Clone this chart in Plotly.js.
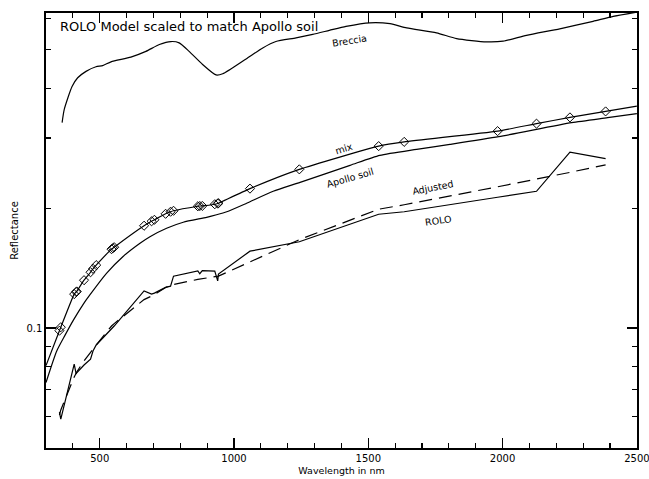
<!DOCTYPE html>
<html>
<head>
<meta charset="utf-8">
<script src="https://cdn.plot.ly/plotly-3.0.1.min.js"></script>
<style>
  html, body { margin: 0; padding: 0; background: #fff; }
  #chart { width: 649px; height: 479px; }
</style>
</head>
<body>
<div id="chart"></div>
<script>
// ROLO band wavelengths (nm)
const bandWl = [350.0, 355.1, 405.0, 412.3, 414.4, 441.6, 465.8, 475.0, 486.9, 544.0, 549.1, 553.8,
  665.1, 693.1, 703.6, 745.3, 763.7, 774.8, 865.3, 872.6, 882.0, 928.4, 939.3, 942.1,
  1059.5, 1243.2, 1538.7, 1633.6, 1981.5, 2126.3, 2250.9, 2383.6];

// mix reflectance at the ROLO bands (diamonds)
const mixRefl = [0.0985, 0.1005, 0.1217, 0.1232, 0.1236, 0.1319, 0.1381, 0.1409, 0.1439, 0.1578, 0.1587, 0.1596,
  0.1807, 0.1854, 0.1870, 0.1936, 0.1959, 0.1970, 0.2022, 0.2025, 0.2026, 0.2046, 0.2055, 0.2058,
  0.2239, 0.2503, 0.2863, 0.2934, 0.3122, 0.3260, 0.3380, 0.3499];
const mixEndWl = [300, 2500];
const mixEndRefl = [0.0805, 0.3607];

// ROLO model at the bands
const roloRefl = [0.0615, 0.0591, 0.0812, 0.0767, 0.0772, 0.0808, 0.0836, 0.0876, 0.0907, 0.1000, 0.1006, 0.1012,
  0.1240, 0.1217, 0.1224, 0.1265, 0.1274, 0.1350, 0.1392, 0.1369, 0.1394, 0.1390, 0.1314, 0.1366,
  0.1560, 0.1647, 0.1931, 0.1959, 0.2130, 0.2205, 0.2766, 0.2663];

// Adjusted ROLO at the bands
const adjRefl = [0.0605, 0.0623, 0.0754, 0.0772, 0.0776, 0.0827, 0.0866, 0.0883, 0.0907, 0.1012, 0.1020, 0.1026,
  0.1179, 0.1203, 0.1213, 0.1265, 0.1279, 0.1287, 0.1325, 0.1327, 0.1331, 0.1346, 0.1350, 0.1350,
  0.1466, 0.1667, 0.1988, 0.2040, 0.2263, 0.2363, 0.2460, 0.2569];

// Apollo soil spectrum
const apolloWl = [300, 340, 371, 402, 439, 464, 526, 588, 650, 687, 749, 811, 898, 935, 973,
  1047, 1146, 1246, 1432, 1543, 1680, 1804, 1986, 2257, 2391, 2500];
const apolloRefl = [0.0730, 0.0876, 0.0960, 0.1047, 0.1149, 0.1213, 0.1374, 0.1515, 0.1633, 0.1696, 0.1781, 0.1844, 0.1897, 0.1925, 0.1959,
  0.2058, 0.2205, 0.2322, 0.2562, 0.2714, 0.2810, 0.2892, 0.3024, 0.3278, 0.3374, 0.3454];

// Breccia spectrum
const brecciaWl = [360, 368, 397, 418, 449, 486, 511, 542, 616, 672, 722, 765, 796, 833, 883, 933, 958,
  1045, 1107, 1156, 1231, 1293, 1355, 1417, 1506, 1581, 1643, 1754, 1829, 1940, 2002, 2089, 2213, 2337, 2412, 2500];
const brecciaRefl = [0.328, 0.354, 0.404, 0.425, 0.441, 0.453, 0.456, 0.466, 0.479, 0.495, 0.515, 0.524, 0.520, 0.495, 0.459, 0.432, 0.435,
  0.474, 0.505, 0.524, 0.535, 0.546, 0.559, 0.572, 0.584, 0.581, 0.567, 0.551, 0.533, 0.523, 0.525, 0.543, 0.564, 0.589, 0.606, 0.621];

// axis ticks
const xMajorTicks = [500, 1000, 1500, 2000, 2500];
const xMajorLabels = ['500', '1000', '1500', '2000', '2500'];
const xMinorTicks = [400, 600, 700, 800, 900, 1100, 1200, 1300, 1400, 1600, 1700, 1800, 1900, 2100, 2200, 2300, 2400];
const yMajorTicks = [0.1];
const yMajorLabels = ['0.1'];
const yMinorTicks = [0.06, 0.07, 0.08, 0.09, 0.2, 0.3, 0.4, 0.5, 0.6];

const titleText = 'ROLO Model scaled to match Apollo soil';
const curveLabels = ['Breccia', 'mix', 'Apollo soil', 'Adjusted', 'ROLO'];

const FONT = 'DejaVu Sans, sans-serif';
const lineStyle = {color: '#000', width: 1.2};

const mixLineWl = [mixEndWl[0]].concat(bandWl, [mixEndWl[1]]);
const mixLineRefl = [mixEndRefl[0]].concat(mixRefl, [mixEndRefl[1]]);

const traces = [
  {x: brecciaWl, y: brecciaRefl, mode: 'lines', line: Object.assign({shape: 'spline', smoothing: 0.6}, lineStyle), name: 'Breccia'},
  {x: mixLineWl, y: mixLineRefl, mode: 'lines', line: Object.assign({shape: 'spline', smoothing: 0.5}, lineStyle), name: 'mix'},
  {x: bandWl, y: mixRefl, mode: 'markers', marker: {symbol: 'diamond-open', size: 7, color: '#000', line: {width: 1, color: '#000'}}, name: 'mix points'},
  {x: apolloWl, y: apolloRefl, mode: 'lines', line: Object.assign({shape: 'spline', smoothing: 0.6}, lineStyle), name: 'Apollo soil'},
  {x: bandWl, y: roloRefl, mode: 'lines', line: Object.assign({}, lineStyle), name: 'ROLO'},
  {x: bandWl, y: adjRefl, mode: 'lines', line: {color: '#000', width: 1.2, dash: '13px,7px'}, name: 'Adjusted'}
];

const annPos = [
  {x: 0.514, y: 0.937, a: -9},
  {x: 0.504, y: 0.6885, a: -17},
  {x: 0.516, y: 0.6207, a: -16},
  {x: 0.654, y: 0.600, a: -11},
  {x: 0.664, y: 0.523, a: -8}
];
const annotations = curveLabels.map((t, i) => ({
  text: t, xref: 'paper', yref: 'paper', x: annPos[i].x, y: annPos[i].y,
  xanchor: 'center', yanchor: 'middle', showarrow: false, textangle: annPos[i].a,
  font: {family: FONT, size: 9.5, color: '#000'}
}));
annotations.push({
  text: titleText, xref: 'paper', yref: 'paper', x: 0.0198, y: 0.968,
  xanchor: 'left', yanchor: 'middle', showarrow: false,
  font: {family: FONT, size: 13, color: '#000'}
});

const axisCommon = {
  showgrid: false, zeroline: false, showline: true, linecolor: '#000', linewidth: 1.6,
  mirror: 'ticks', ticks: 'inside', ticklen: 10, tickwidth: 1.2, tickcolor: '#000',
  ticklabeloverflow: 'allow',
  tickfont: {family: FONT, size: 10, color: '#000'}
};

const layout = {
  width: 649, height: 479,
  margin: {l: 46, r: 12, t: 13, b: 31},
  paper_bgcolor: '#fff', plot_bgcolor: '#fff',
  showlegend: false,
  font: {family: FONT, color: '#000'},
  xaxis: Object.assign({}, axisCommon, {
    type: 'linear', range: [300, 2500.5],
    tickmode: 'array', tickvals: xMajorTicks, ticktext: xMajorLabels,
    minor: {tickmode: 'array', tickvals: xMinorTicks, ticks: 'inside', ticklen: 5, tickwidth: 1.2, tickcolor: '#000', showgrid: false},
    title: {text: 'Wavelength in nm', font: {family: FONT, size: 9.5, color: '#000'}, standoff: 5}
  }),
  yaxis: Object.assign({}, axisCommon, {
    type: 'log', range: [Math.log10(0.05), Math.log10(0.618)],
    tickmode: 'array', tickvals: yMajorTicks, ticktext: yMajorLabels,
    minor: {tickmode: 'array', tickvals: yMinorTicks, ticks: 'inside', ticklen: 5, tickwidth: 1.2, tickcolor: '#000', showgrid: false},
    title: {text: 'Reflectance', font: {family: FONT, size: 10, color: '#000'}, standoff: 6}
  }),
  annotations: annotations
};

Plotly.newPlot('chart', traces, layout, {displayModeBar: false, staticPlot: true});
</script>
</body>
</html>
